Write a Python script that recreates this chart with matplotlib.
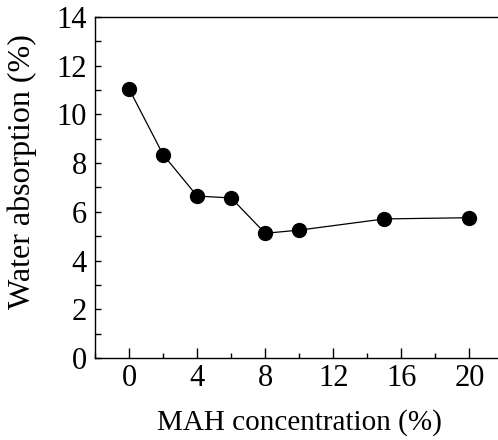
import matplotlib
matplotlib.use('Agg')
import matplotlib.pyplot as plt
from matplotlib.ticker import MultipleLocator

# Data -----------------------------------------------------------------
mah = [0, 2, 4, 6, 8, 10, 15, 20]            # MAH concentration (%)
water = [11.05, 8.35, 6.65, 6.57, 5.12, 5.25, 5.71, 5.76]  # water absorption (%)

plt.rcParams['font.family'] = ['Liberation Serif', 'DejaVu Serif']

fig = plt.figure(figsize=(4.98, 4.40), dpi=100)
ax = fig.add_axes([95 / 498, 82 / 440, (503.5 - 95) / 498, 341 / 440])

ax.plot(mah, water, color='black', linewidth=0.9, marker='o',
        markersize=10, markerfacecolor='black', markeredgecolor='black')

ax.set_xlim(-2, 22)
ax.set_ylim(0, 14)
ax.xaxis.set_major_locator(MultipleLocator(4))
ax.xaxis.set_minor_locator(MultipleLocator(2))
ax.yaxis.set_major_locator(MultipleLocator(2))
ax.yaxis.set_minor_locator(MultipleLocator(1))

ax.spines['right'].set_visible(False)
for s in ['left', 'bottom', 'top']:
    ax.spines[s].set_linewidth(1.0)

ax.tick_params(axis='x', which='major', direction='in', length=7, width=1,
               labelsize=22, pad=4)
ax.tick_params(axis='x', which='minor', direction='in', length=3.5, width=1)
ax.tick_params(axis='y', which='both', direction='in', length=4.5, width=1,
               labelsize=22, pad=6)

ax.set_xlabel('MAH concentration (%)', fontsize=21, labelpad=12)
ax.set_ylabel('Water absorption (%)', fontsize=23)
ax.yaxis.set_label_coords(-0.142, 0.548)

fig.savefig('out.png', dpi=100)
